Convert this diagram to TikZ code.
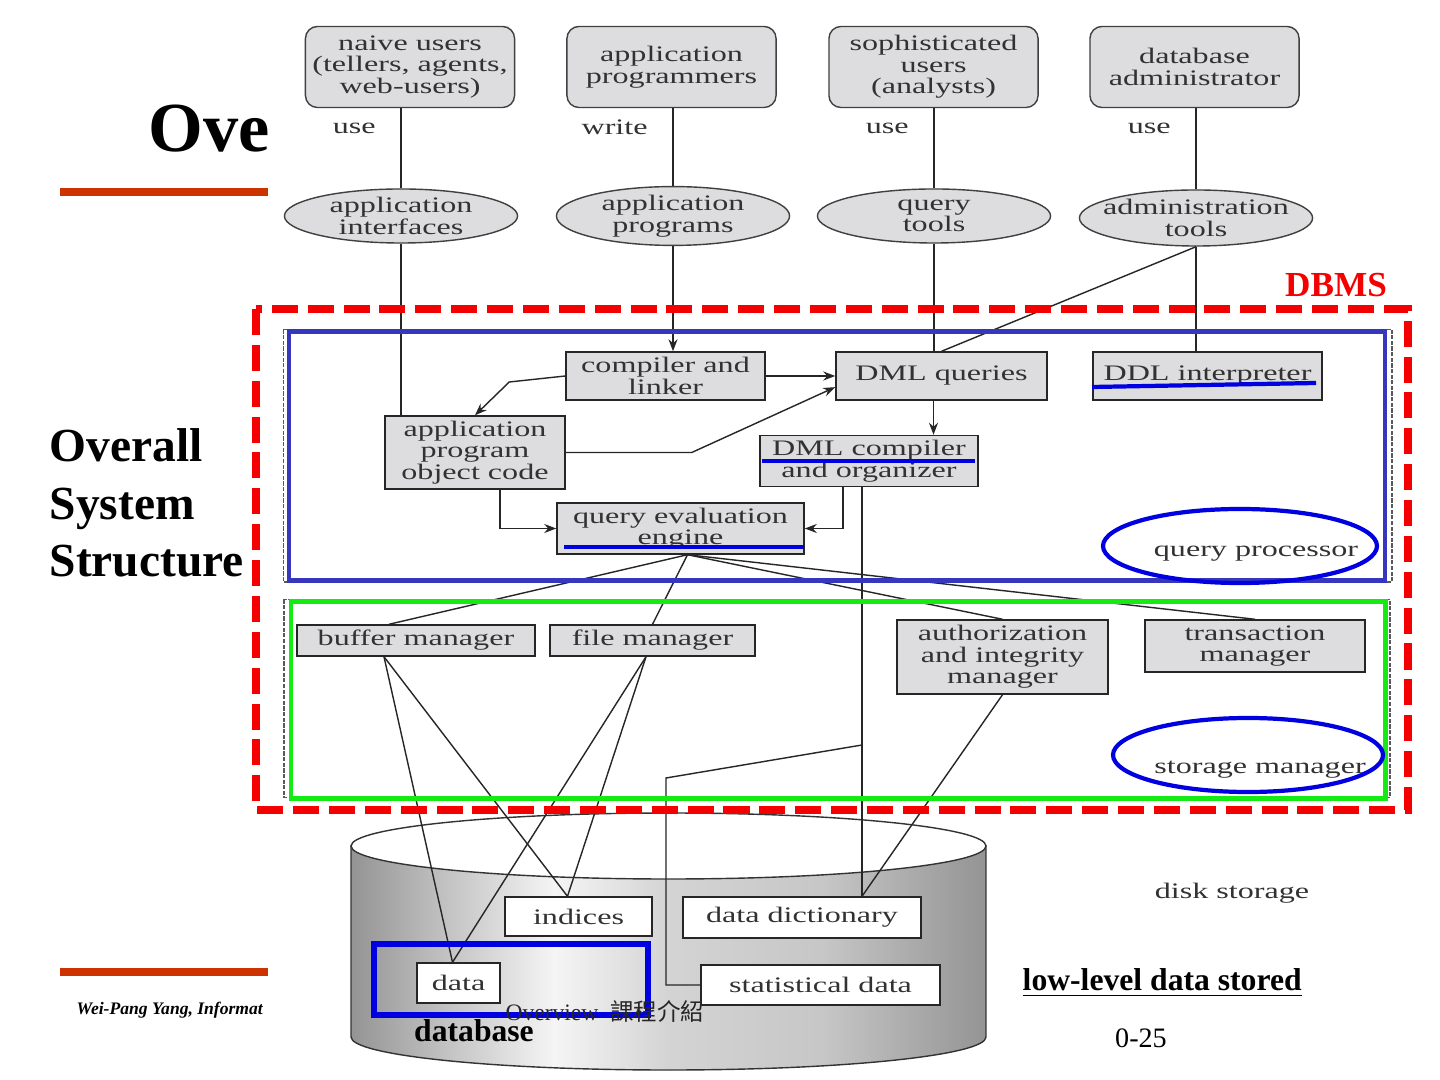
\documentclass[tikz,border=0pt]{standalone}
\usepackage{fontspec}
\setmainfont{Liberation Serif}
\newfontfamily\diagfont[FakeStretch=1.45]{Liberation Serif}
\newfontfamily\cjkfont{Noto Sans CJK TC}
\usetikzlibrary{shapes.geometric, arrows.meta}

\definecolor{slidered}{RGB}{204,51,0}
\definecolor{dbmsred}{RGB}{245,0,0}
\definecolor{qpblue}{RGB}{55,55,190}
\definecolor{markblue}{RGB}{0,0,225}
\definecolor{smgreen}{RGB}{20,235,20}
\definecolor{boxgray}{RGB}{221,221,223}
\definecolor{inkgray}{RGB}{50,50,50}

\pgfdeclarehorizontalshading{diskshade}{100bp}{color(0bp)=(black!42); color(25bp)=(black!42); color(32bp)=(black!25); color(41bp)=(black!4); color(50bp)=(black!17); color(62bp)=(black!22); color(75bp)=(black!42); color(100bp)=(black!42)}

\begin{document}
\begin{tikzpicture}[x=0.01cm, y=-0.01cm, >={Stealth[length=1.2mm, width=0.9mm]},
        every node/.style={font=\diagfont\fontsize{6.3}{6.1}\selectfont, text=inkgray},
        userbox/.style={draw=black!75, fill=boxgray, rounded corners=1.2mm, minimum width=20.9mm, minimum height=8.1mm, inner sep=0, align=center},
        toolell/.style={draw=black!75, fill=boxgray, ellipse, minimum width=23.3mm, minimum height=5.4mm, inner xsep=-4mm, inner ysep=0, align=center},
        procbox/.style={draw=black!85, fill=boxgray, inner sep=0, align=center},
        diskbox/.style={draw=black!85, fill=white, inner sep=0},
        wire/.style={black!85},
        slidetext/.style={text=black, inner sep=0}]

    \useasboundingbox (0,0) rectangle (1440,1080);
    \fill[white] (0,0) rectangle (1440,1080);

    % slide behind the figure
    \node(title) at (148,152) [slidetext, anchor=base west, font=\bfseries\fontsize{20}{24}\selectfont] {Ove};
    \draw[slidered, line width=2.4pt] (60,192) -- (268,192);
    \draw[slidered, line width=2.4pt] (60,972) -- (268,972);
    \node(sidetitle) at (49,503) [slidetext, anchor=west, align=left, font=\bfseries\fontsize{13.5}{16.4}\selectfont] {Overall\\System\\Structure};
    \node(author) at (76,1010) [slidetext, anchor=west, font=\bfseries\itshape\fontsize{5}{6}\selectfont] {Wei-Pang Yang, Informat};

    % users
    \node(naive) at (410,67) [userbox] {naive users\\(tellers, agents,\\web-users)};
    \node(progr) at (671.5,67) [userbox] {application\\programmers};
    \node(analyst) at (933.5,67) [userbox] {sophisticated\\users\\(analysts)};
    \node(dba) at (1194.5,67) [userbox] {database\\administrator};

    % tools
    \node(appif) at (401,216) [toolell] {application\\interfaces};
    \node(appprog) at (673,216) [toolell] {application\\programs};
    \node(qtools) at (934,216) [toolell] {query\\tools};
    \node(admintools) at (1196,218) [toolell, minimum height=5.6mm] {administration\\tools};

    \draw[wire] (appif.north |- naive.south) -- node[pos=0.25, left=1.3mm] {use} (appif.north);
    \draw[wire] (appprog.north |- progr.south) -- node[pos=0.25, left=1.3mm] {write} (appprog.north);
    \draw[wire] (qtools.north |- analyst.south) -- node[pos=0.25, left=1.3mm] {use} (qtools.north);
    \draw[wire] (admintools.north |- dba.south) -- node[pos=0.25, left=1.3mm] {use} (admintools.north);

    % disk storage
    \shade[shading=diskshade, draw=black!80] (351,846) -- (351,1037) arc[start angle=180, end angle=0, x radius=317.5, y radius=33] -- (986,846) -- cycle;
    \draw[black!80, fill=white] (668.5,846) ellipse [x radius=317.5, y radius=33];
    \node(indices) at (578.5,916.5) [diskbox, minimum width=14.7mm, minimum height=3.9mm] {indices};
    \node(datadict) at (802,917.5) [diskbox, minimum width=23.8mm, minimum height=4.1mm] {data dictionary};
    \node(data) at (458.5,983) [diskbox, minimum width=8.3mm, minimum height=4mm] {data};
    \node(statdata) at (820.5,985) [diskbox, minimum width=23.9mm, minimum height=4mm] {statistical data};
    \node(disklabel) at (1232,893) {disk storage};

    % query processor
    \node(compiler) at (665.5,376) [procbox, minimum width=19.9mm, minimum height=4.8mm] {compiler and\\linker};
    \node(dmlq) at (941.5,376) [procbox, minimum width=21.1mm, minimum height=4.8mm] {DML queries};
    \node(ddl) at (1207.5,376) [procbox, minimum width=22.9mm, minimum height=4.8mm] {DDL interpreter};
    \node(appobj) at (475,452.5) [procbox, minimum width=18mm, minimum height=7.3mm] {application\\program\\object code};
    \node(dmlc) at (869,461) [procbox, minimum width=21.8mm, minimum height=5.1mm] {DML compiler\\and organizer};
    \node(qeval) at (680.5,528.5) [procbox, minimum width=24.7mm, minimum height=5.1mm] {query evaluation\\engine};
    \node(qplabel) at (1256,554) {query processor};

    % storage manager
    \node(buffer) at (416,640.5) [procbox, minimum width=23.8mm, minimum height=3.1mm] {buffer manager};
    \node(filemgr) at (652.5,640.5) [procbox, minimum width=20.5mm, minimum height=3.1mm] {file manager};
    \node(authmgr) at (1002.5,657) [procbox, minimum width=21.1mm, minimum height=7.4mm] {authorization\\and integrity\\manager};
    \node(transmgr) at (1255,646) [procbox, minimum width=22mm, minimum height=5.2mm] {transaction\\manager};
    \node(smlabel) at (1260,770) {storage manager};

    \draw[wire] (appif.south) -- (appif.south |- appobj.north);
    \draw[wire, ->] (appprog.south) -- (appprog.south |- compiler.north);
    \draw[wire] (qtools.south) -- (qtools.south |- dmlq.north);
    \draw[wire] (admintools.south) -- (dmlq.north);
    \draw[wire] (admintools.south) -- (admintools.south |- ddl.north);

    \draw[wire, ->] (compiler.east) -- (dmlq.west);
    \draw[wire, ->] (compiler.west) -- ++(-56,6) -- (appobj.north);
    \draw[wire, ->] (appobj.east) -- ++(126,0) -- (dmlq.186);
    \draw[wire, ->] ([xshift=-0.8mm]dmlq.south) -- ([xshift=-0.8mm]dmlq.south |- dmlc.north);
    \draw[wire, ->] ([xshift=2.5mm]appobj.south) |- (qeval.west);
    \draw[wire, ->] ([xshift=-2.6mm]dmlc.south) |- (qeval.east);

    \draw[wire] ([xshift=0.7mm]qeval.south) -- ([xshift=-2.7mm]buffer.north);
    \draw[wire] ([xshift=0.7mm]qeval.south) -- (filemgr.north);
    \draw[wire] ([xshift=0.7mm]qeval.south) -- (authmgr.north);
    \draw[wire] ([xshift=0.7mm]qeval.south) -- (transmgr.north);

    \draw[wire] ([xshift=-3.2mm]buffer.south) -- ([xshift=-0.6mm]data.north);
    \draw[wire] ([xshift=-3.2mm]buffer.south) -- ([xshift=-1.1mm]indices.north);
    \draw[wire] ([xshift=-0.65mm]filemgr.south) -- ([xshift=-0.6mm]data.north);
    \draw[wire] ([xshift=-0.65mm]filemgr.south) -- ([xshift=-1.1mm]indices.north);
    \draw[wire] (authmgr.south) -- ([xshift=6mm]datadict.north);
    \draw[wire] ([xshift=-0.7mm]dmlc.south) -- ([xshift=-0.7mm]dmlc.south |- datadict.north);
    \coordinate(split) at (862,745);
    \draw[wire] (split) -- ++(-196,33) |- (statdata.west);

    % outlines of the two parts
    \draw[black!65, line width=0.35pt, dash pattern=on 1.2pt off 0.4pt] (283.5,329.5) rectangle (1392,582);
    \draw[black!65, line width=0.35pt, dash pattern=on 1.2pt off 0.4pt] (284,599.5) rectangle (1390,797.5);

    % DBMS markings
    \draw[dbmsred, line width=2.3pt, dash pattern=on 7.4pt off 2.8pt] (256,309) rectangle (1408,810);
    \node(dbms) at (1336,285) [text=dbmsred, font=\bfseries\fontsize{10}{12}\selectfont] {DBMS};
    \draw[qpblue, line width=1.2pt] (289,331.5) rectangle (1385,580.5);
    \draw[smgreen, line width=1.2pt] (291,601.5) rectangle (1385.5,798.5);
    \draw[markblue, line width=1.2pt] (1240,546) ellipse [x radius=137, y radius=37];
    \draw[markblue, line width=1.2pt] (1248,755) ellipse [x radius=135, y radius=37];
    \draw[markblue, line width=1.2pt] (1092,387) -- (1316,383);
    \draw[markblue, line width=1.2pt] (762,461) -- (975,461);
    \draw[markblue, line width=1.2pt] (564,547) -- (804,547);
    \draw[markblue, line width=1.5pt] (374,944) rectangle (648,1015);

    % footer
    \node(lowlevel) at (1022,990) [slidetext, anchor=base west, font=\bfseries\fontsize{9}{11}\selectfont] {\underline{low-level data stored}};
    \node(dblabel) at (474,1031) [slidetext, font=\bfseries\fontsize{9}{11}\selectfont] {database};
    \node(course) at (605,1011) [slidetext, text=black!85, font=\fontsize{6.7}{8}\selectfont] {Overview~ {\cjkfont 課程介紹}};
    \node(pageno) at (1141,1038) [slidetext, font=\fontsize{8}{10}\selectfont] {0-25};
\end{tikzpicture}
\end{document}
